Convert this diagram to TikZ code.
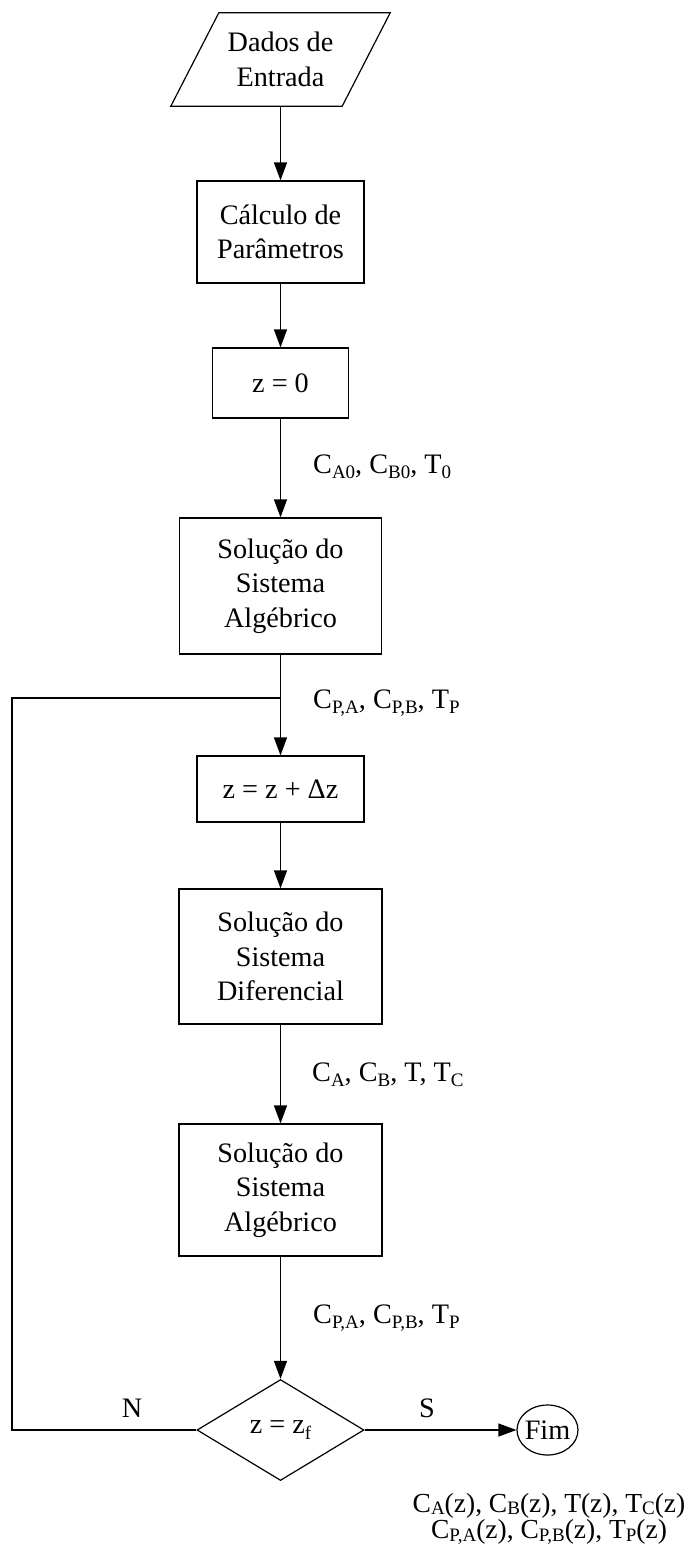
\documentclass[tikz,border=0pt]{standalone}
\usepackage{fontspec}
\setmainfont{Liberation Serif}
\usetikzlibrary{arrows.meta,shapes.geometric}
\newcommand\sbs[1]{\raisebox{-0.2em}{\fontsize{19}{19}\selectfont #1}}
\newcommand\sbb[1]{\raisebox{-0.08em}{\fontsize{19}{19}\selectfont #1}}
\begin{document}
\begin{tikzpicture}[x=1pt,y=-1pt,
  font=\fontsize{28.2}{34.5}\selectfont,
  proc/.style={draw, line width=1.2pt, align=center, inner sep=0pt},
  link/.style={line width=1.2pt, -{Triangle[length=18pt,width=13pt]}},
  wire/.style={line width=1.2pt},
  lbl/.style={anchor=base west, inner sep=0pt}]
\useasboundingbox (0,0) rectangle (694,1551);

\node[align=center, inner sep=0pt, minimum width=171pt, minimum height=93pt] (in) at (280.5,59.5) {Dados de\\Entrada};
\draw[wire] ([xshift=24pt]in.north west) -- ([xshift=24pt]in.north east) -- ([xshift=-24pt]in.south east) -- ([xshift=-24pt]in.south west) -- cycle;

\node[proc, minimum width=167pt, minimum height=102pt] (calc) at (280.5,232) {Cálculo de\\Parâmetros};
\node[proc, minimum width=136pt, minimum height=70pt] (z0) at (280.5,383) {z = 0};
\node[proc, minimum width=202pt, minimum height=136pt] (alg1) at (280.5,586) {Solução do\\Sistema\\Algébrico};
\node[proc, minimum width=167pt, minimum height=66pt] (inc) at (280.5,789) {z = z + Δz};
\node[proc, minimum width=203pt, minimum height=135pt] (dif) at (280.5,956.5) {Solução do\\Sistema\\Diferencial};
\node[proc, minimum width=203pt, minimum height=132pt] (alg2) at (280.5,1190) {Solução do\\Sistema\\Algébrico};
\node[proc, diamond, aspect=1.65, minimum width=167pt, minimum height=101pt] (dec) at (280.5,1430) {z = z\sbs{f}};
\node[proc, ellipse, inner xsep=-3pt, minimum width=61pt, minimum height=50pt] (fim) at (547.5,1430) {Fim};

\draw[link] (in) -- (calc);
\draw[link] (calc) -- (z0);
\draw[link] (z0) -- (alg1);
\draw[link] (alg1) -- (inc);
\draw[link] (inc) -- (dif);
\draw[link] (dif) -- (alg2);
\draw[link] (alg2) -- (dec);
\draw[link] (dec) -- (fim);

\coordinate (lb) at (12,1430);
\coordinate (j) at (280.5,698);
\draw[wire] (dec.west) -- (lb) |- (j);

\node[lbl] (l1) at (313,473) {C\sbs{A0}, C\sbs{B0}, T\sbs{0}};
\node[lbl] (l2) at (313,708) {C\sbs{P,A}, C\sbs{P,B}, T\sbs{P}};
\node[lbl] (l3) at (312,1081) {C\sbs{A}, C\sbs{B}, T, T\sbs{C}};
\node[lbl] (l4) at (313,1323) {C\sbs{P,A}, C\sbs{P,B}, T\sbs{P}};
\node[anchor=base, inner sep=0pt] (ln) at (132,1417) {N};
\node[anchor=base, inner sep=0pt] (ls) at (427,1417) {S};
\node[align=center, inner sep=0pt, font=\fontsize{27.5}{26.5}\selectfont] (out) at (549,1519) {C\sbb{A}(z), C\sbb{B}(z), T(z), T\sbb{C}(z)\\C\sbb{P,A}(z), C\sbb{P,B}(z), T\sbb{P}(z)};
\end{tikzpicture}
\end{document}
